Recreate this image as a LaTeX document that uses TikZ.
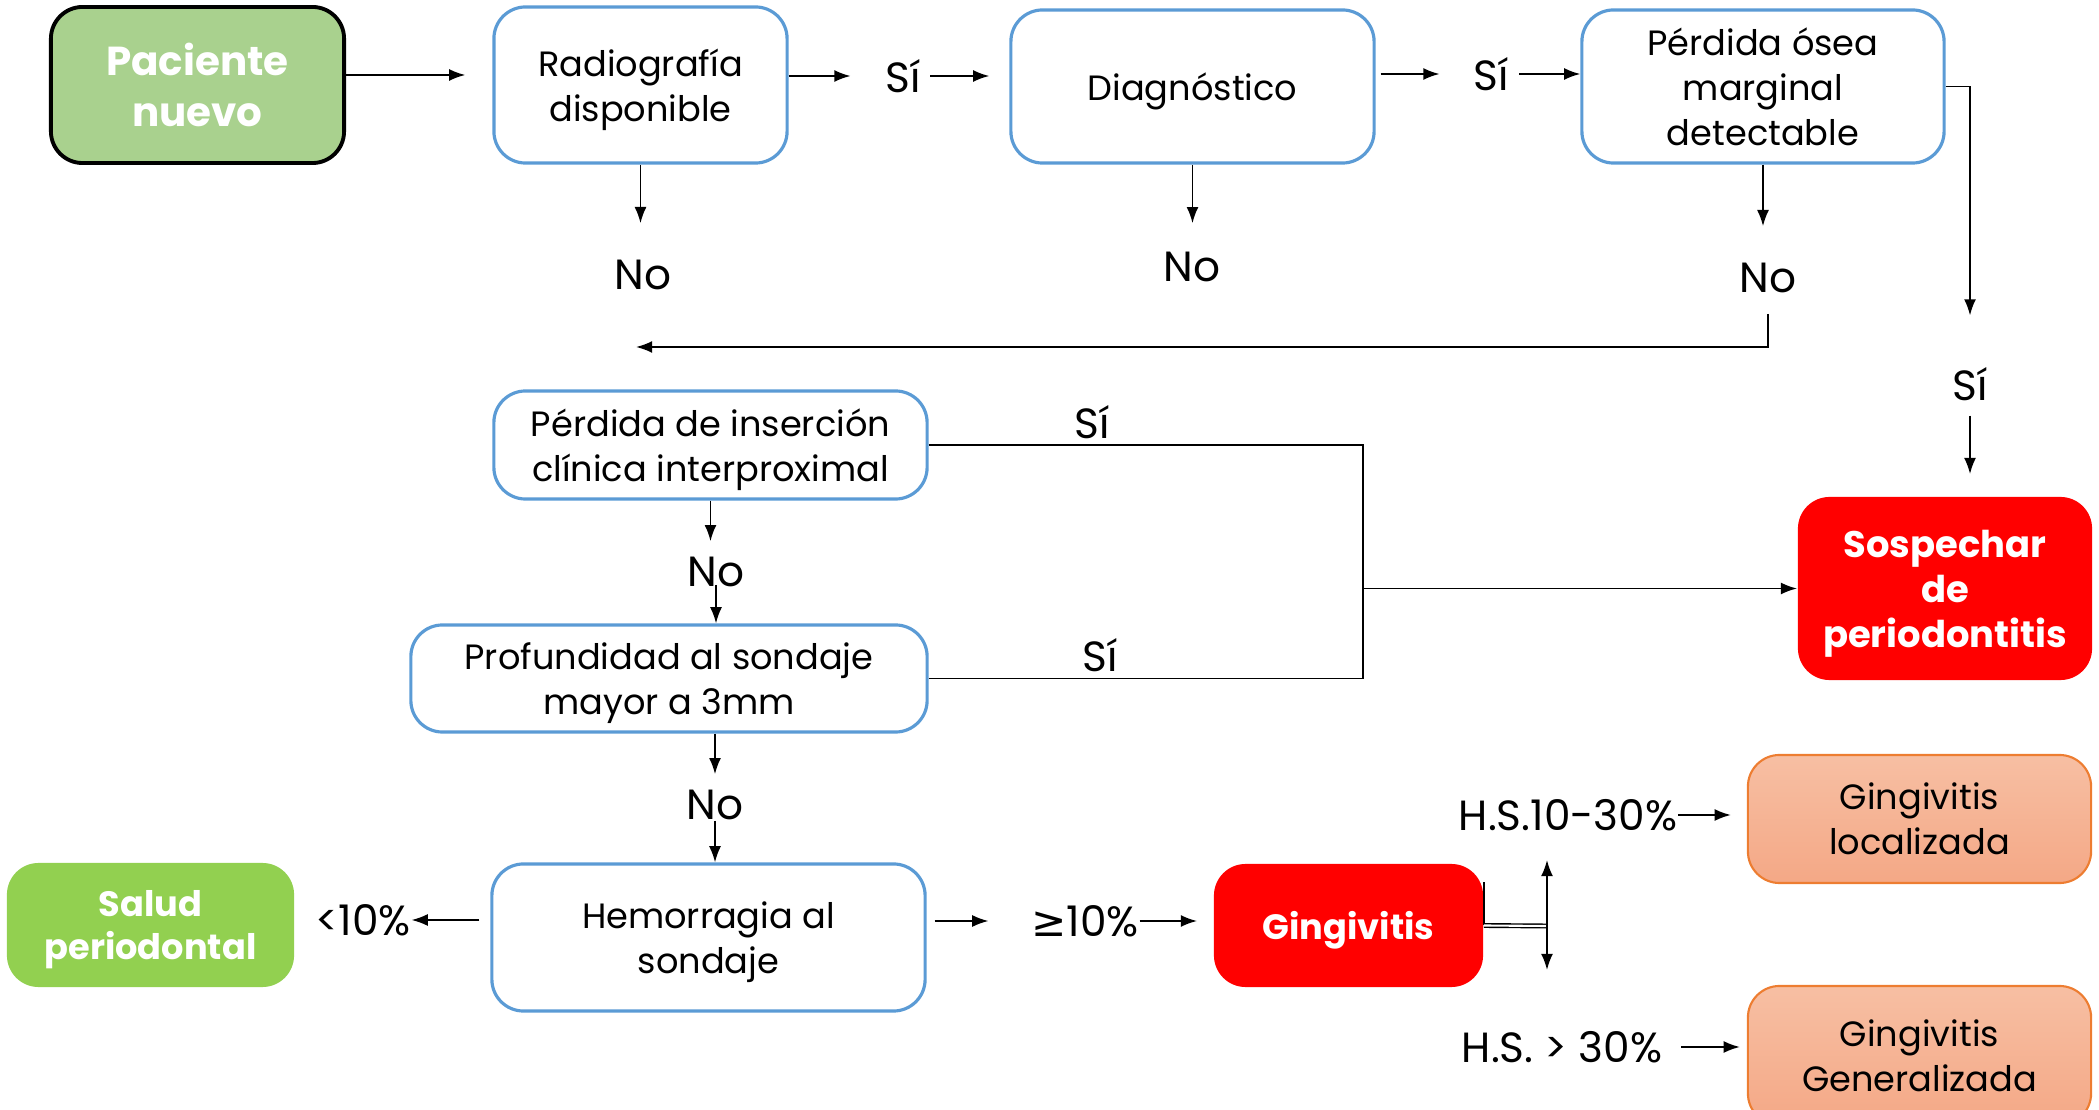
\documentclass[tikz,border=0pt]{standalone}
\usepackage{fontspec}
\setmainfont{Poppins}
\newfontfamily\simbolos{DejaVu Sans}
\usepackage{tikz}
\usetikzlibrary{arrows.meta}
\definecolor{azulborde}{HTML}{5B9BD5}
\definecolor{verdeinicio}{HTML}{A9D18E}
\definecolor{verdesalud}{HTML}{92D050}
\definecolor{rojo}{HTML}{FF0000}
\definecolor{naranjaborde}{HTML}{ED7D31}
\definecolor{salmonA}{HTML}{F7BFA3}
\definecolor{salmonB}{HTML}{F4A886}
\tikzset{
  caja/.style = {rectangle, rounded corners=9pt, draw=azulborde, line width=0.9pt,
    fill=white, align=center, inner sep=0pt, text depth=-0.2pt,
    font=\fontsize{10}{12.8}\selectfont},% pregunta
  inicio/.style = {rectangle, rounded corners=9pt, draw=black, line width=1.1pt,
    fill=verdeinicio, text=white, align=center, inner sep=0pt, text depth=0pt,
    font=\bfseries\fontsize{11.5}{14.5}\selectfont},% punto de partida
  final/.style = {rectangle, rounded corners=9pt, fill=rojo, text=white, align=center,
    inner sep=0pt, text depth=-0.2pt, font=\bfseries\fontsize{10.5}{12.8}\selectfont},% resultado en rojo
  sano/.style = {final, fill=verdesalud, font=\bfseries\fontsize{10}{12.5}\selectfont},% salud
  grado/.style = {rectangle, rounded corners=9pt, draw=naranjaborde, line width=0.6pt,
    top color=salmonA, bottom color=salmonB, align=center, inner sep=0pt, text depth=-0.6pt,
    font=\fontsize{10}{12.8}\selectfont},% tipo de gingivitis
  etiq/.style = {inner sep=0pt, font=\fontsize{12}{14}\selectfont}% Sí / No / porcentajes
}
\begin{document}
\begin{tikzpicture}[->,>={Latex[length=4.6pt,width=3.4pt]},x=0.01cm,y=-0.01cm,line width=0.5pt]
\useasboundingbox (0,0) rectangle (2099,1110);
% fila superior
\node [inicio, minimum width=2.93cm, minimum height=1.56cm] (paciente) at (197.5,85) {Paciente\\nuevo};
\node [caja, minimum width=2.93cm, minimum height=1.56cm] (radio) at (640.5,85) {Radiografía\\disponible};
\node [caja, minimum width=3.63cm, minimum height=1.53cm] (diag) at (1192.5,86.5) {Diagnóstico};
\node [caja, minimum width=3.62cm, minimum height=1.53cm] (osea) at (1763,86.5) {Pérdida ósea\\marginal\\detectable};
% preguntas clinicas
\node [caja, minimum width=4.33cm, minimum height=1.08cm] (insercion) at (710.5,445) {Pérdida de inserción\\clínica interproximal};
\node [caja, minimum width=5.16cm, minimum height=1.07cm] (profund) at (669,678.5) {Profundidad al sondaje\\mayor a 3mm};
\node [caja, minimum width=4.33cm, minimum height=1.47cm] (hemorragia) at (708.5,937.5) {Hemorragia al\\sondaje};
% resultados
\node [final, minimum width=2.94cm, minimum height=1.83cm] (sospecha) at (1945,588.5) {Sospechar\\de\\periodontitis};
\node [sano, minimum width=2.87cm, minimum height=1.24cm] (salud) at (150.5,925) {Salud\\periodontal};
\node [final, minimum width=2.69cm, minimum height=1.23cm, font=\bfseries\fontsize{10}{12.8}\selectfont] (gingi) at (1348.5,925.5) {Gingivitis};
\node [grado, minimum width=3.43cm, minimum height=1.28cm] (local) at (1919.5,819) {Gingivitis\\localizada};
\node [grado, minimum width=3.43cm, minimum height=1.39cm] (general) at (1919.5,1055.5) {Gingivitis\\Generalizada};
% etiquetas
\node [etiq] (siA) at (903,76) {Sí};
\node [etiq] (siB) at (1491,74) {Sí};
\node [etiq] (noA) at (643,275) {No};
\node [etiq] (noB) at (1192,267) {No};
\node [etiq] (noC) at (1768,278) {No};
\node [etiq] (siC) at (1970,384) {Sí};
\node [etiq] (siD) at (1092,422) {Sí};
\node [etiq] (siE) at (1100,655) {Sí};
\node [etiq] (noD) at (716,572) {No};
\node [etiq] (noE) at (715,805) {No};
\node [etiq] (menor) at (363,920) {<10\%};
\node [etiq] (mayor) at (1085,921) {{\simbolos ≥}10\%};
\node [etiq] (hsA) at (1568,815) {H.S.10-30\%};
\node [etiq] (hsB) at (1562,1047) {H.S. > 30\%};
\coordinate (retorno) at (636,347);
\coordinate (junta) at (1363,588.5);
\coordinate (bif) at (1547,926);
\coordinate (bifA) at (1547,860);
\coordinate (bifB) at (1547,970);
% conectores
\draw [shorten >=2.7mm] ([yshift=1mm]paciente.east) -- ([yshift=1mm]radio.west);
\draw [shorten >=3.4mm] (radio.east |- siA.west) -- (siA.west);
\draw [shorten <=0.9mm, shorten >=2mm] (siA.east) -- (siA.east -| diag.west);
\draw [shorten <=0.5mm, shorten >=3.3mm] (diag.east |- siB.west) -- (siB.west);
\draw [shorten <=1mm] (siB.east) -- (siB.east -| osea.west);
\draw [shorten >=3.6mm] (radio.south) -- (radio.south |- noA.north);
\draw [shorten >=2.8mm] (diag.south) -- (diag.south |- noB.north);
\draw [shorten >=3.6mm] (osea.south) -- (osea.south |- noC.north);
\draw [shorten <=2mm] (noC.south) |- (retorno);
\draw [shorten >=5.1mm] (osea.east) -| (siC.north);
\draw [shorten <=1.4mm, shorten >=2.2mm] (siC.south) -- (siC.south |- sospecha.north);
\draw [-] (insercion.east) -| (junta);
\draw [-] (profund.east) -| (junta);
\draw (junta) -- (sospecha.west);
\draw [shorten >=1.5mm] (insercion.south) -- (insercion.south |- noD.north);
\draw [shorten <=-0.3mm] (noD.south) -- (noD.south |- profund.north);
\draw [shorten >=1.5mm] (noE |- profund.south) -- (noE.north);
\draw (noE.south) -- (noE.south |- hemorragia.north);
\draw [shorten <=1.1mm] (hemorragia.west |- menor.east) -- (menor.east);
\draw [shorten <=0.8mm, shorten >=4.2mm] (hemorragia.east |- mayor.west) -- (mayor.west);
\draw [shorten >=1.6mm] (mayor.east) -- (mayor.east -| gingi.west);
\draw [-] ([yshift=4.3mm]gingi.east) -- (gingi.east);
\draw [-, double, double distance=0.6pt, line width=0.4pt] (gingi.east) -- (bif);
\draw [<->] (bifA) -- (bifB);
\draw [shorten >=1.6mm] (hsA.east) -- (hsA.east -| local.west);
\draw [shorten <=1.8mm, shorten >=0.7mm] (hsB.east) -- (hsB.east -| general.west);
\end{tikzpicture}
\end{document}
